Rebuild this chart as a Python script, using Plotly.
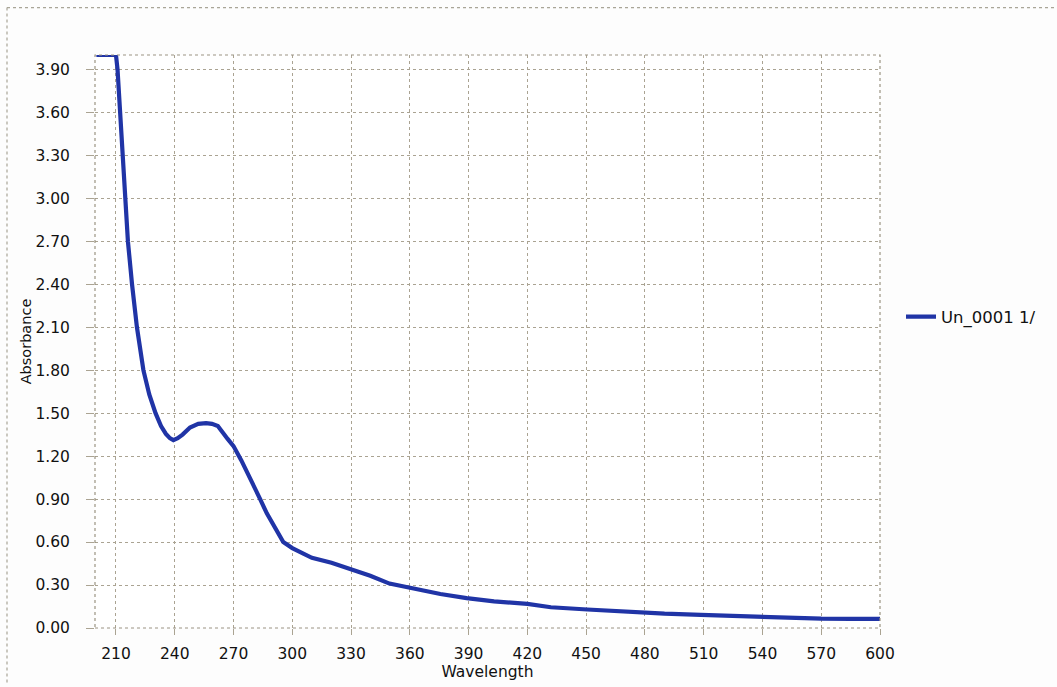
import plotly.graph_objects as go

# UV-Vis absorbance spectrum (nm vs absorbance)
wavelength = [200, 205, 210, 210.8, 212, 213.6, 214.9, 216.1, 218.2, 220.7, 224, 224.8,
              227, 230.2, 233, 235.5, 237.5, 239.3, 241.5, 244, 247.8, 252, 256, 259,
              262, 267, 270, 274, 278.5, 283.6, 287, 291, 295.4, 300, 305, 310, 320,
              330, 339.8, 349.6, 355, 365, 375.6, 389, 403, 420, 432, 450.6, 474, 490,
              508.6, 525, 540, 556, 570, 585, 600]
absorbance = [4.00, 4.00, 4.00, 3.90, 3.60, 3.30, 3.00, 2.70, 2.40, 2.10, 1.80, 1.75,
              1.63, 1.50, 1.41, 1.355, 1.325, 1.312, 1.325, 1.35, 1.40, 1.425, 1.43, 1.425,
              1.41, 1.32, 1.27, 1.17, 1.05, 0.90, 0.80, 0.70, 0.60, 0.558, 0.52, 0.49, 0.455,
              0.41, 0.365, 0.31, 0.295, 0.27, 0.237, 0.209, 0.186, 0.168, 0.145, 0.129, 0.11,
              0.10, 0.092, 0.083, 0.075, 0.069, 0.065, 0.064, 0.064]

series_name = "Un_0001 1/"
x_title = "Wavelength"
y_title = "Absorbance"

grid_color = "#aaa392"
text_color = "#111111"
font_family = "DejaVu Sans"

fig = go.Figure()
fig.add_trace(go.Scatter(
    x=wavelength, y=absorbance, mode="lines", name=series_name,
    line=dict(color="#2034a6", width=4.2),
))

# pixel geometry of the plotting area
L, R, T, B = 95, 177, 55, 52
W, H = 1057, 687
pw, ph = W - L - R, H - T - B


def px_x(p):
    return (p - L) / pw


def px_y(p):
    return (H - B - p) / ph


shapes = [
    # plot-area border
    dict(type="rect", xref="paper", yref="paper", x0=0, x1=1, y0=0, y1=1,
         line=dict(color="#9b9483", width=1.2, dash="dot"), layer="above"),
    # outer chart frame (top and left edges)
    dict(type="line", xref="paper", yref="paper", x0=px_x(7), x1=px_x(W + 5),
         y0=px_y(7), y1=px_y(7), line=dict(color="#a9a597", width=1.2, dash="dot")),
    dict(type="line", xref="paper", yref="paper", x0=px_x(7), x1=px_x(7),
         y0=px_y(7), y1=px_y(H + 5), line=dict(color="#a9a597", width=1.2, dash="dot")),
]

fig.update_layout(
    width=W, height=H,
    margin=dict(l=L, r=R, t=T, b=B, pad=0),
    paper_bgcolor="#fdfdfd",
    plot_bgcolor="#ffffff",
    font=dict(family=font_family, size=15, color=text_color),
    showlegend=True,
    legend=dict(x=px_x(901), y=px_y(320), xanchor="left", yanchor="middle",
                bgcolor="rgba(0,0,0,0)", font=dict(size=16.5, color=text_color)),
    shapes=shapes,
)

fig.update_xaxes(
    range=[199.3, 600], tick0=210, dtick=30,
    showgrid=True, gridcolor=grid_color, griddash="dot", gridwidth=1,
    zeroline=False, showline=False,
    ticks="outside", ticklen=6, tickcolor=grid_color,
    ticklabelstandoff=5,
    tickfont=dict(size=15.5, color=text_color),
    title=dict(text=x_title, font=dict(size=15.5, color=text_color), standoff=2),
)
fig.update_yaxes(
    range=[0, 4.0], tick0=0, dtick=0.3, tickformat=".2f",
    showgrid=True, gridcolor=grid_color, griddash="dot", gridwidth=1,
    zeroline=False, showline=False,
    ticks="outside", ticklen=8, tickcolor=grid_color,
    ticklabelstandoff=13,
    tickfont=dict(size=15.5, color=text_color),
    title=dict(text=y_title, font=dict(size=14.5, color=text_color), standoff=0),
)

fig.write_html("out.html")
